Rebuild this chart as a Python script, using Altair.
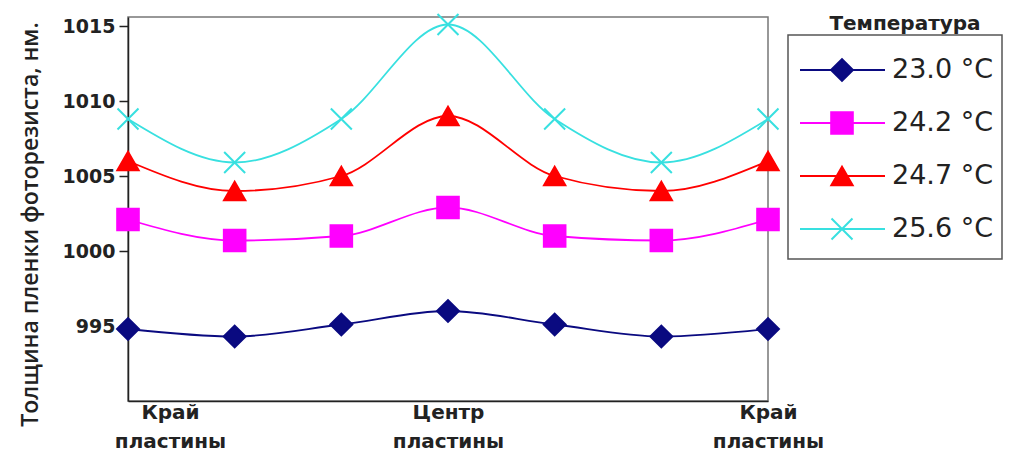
import altair as alt
import pandas as pd

positions = [1, 2, 3, 4, 5, 6, 7]
series = ["23.0 °C", "24.2 °C", "24.7 °C", "25.6 °C"]
t230 = [994.8, 994.3, 995.1, 996.0, 995.1, 994.3, 994.8]
t242 = [1002.1, 1000.7, 1001.0, 1002.9, 1001.0, 1000.7, 1002.1]
t247 = [1006.0, 1004.0, 1005.0, 1009.0, 1005.0, 1004.0, 1006.0]
t256 = [1008.8, 1005.9, 1008.8, 1015.1, 1008.8, 1005.9, 1008.8]
y_ticks = [995, 1000, 1005, 1010, 1015]
x_tick_pos = [1, 4, 7]
x_tick_labels = [["Край", "пластины"], ["Центр", "пластины"], ["Край", "пластины"]]
y_title = "Толщина пленки фоторезиста, нм."
legend_title = ["Температура"]

colors = ["#0a0a80", "#ff00ff", "#ff0000", "#38e0e0"]
shapes = ["diamond", "square", "triangle-up", "M-1,-1L1,1M1,-1L-1,1"]
sizes = [480, 440, 440, 600]

rows = []
for name, vals in zip(series, [t230, t242, t247, t256]):
    for p, v in zip(positions, vals):
        rows.append({"pos": p, "value": v, "series": name})
df = pd.DataFrame(rows)
leg_df = pd.DataFrame({"series": series})
leg_title_df = pd.DataFrame({"title": legend_title})

color_scale = alt.Scale(domain=series, range=colors)
shape_scale = alt.Scale(domain=series, range=shapes)
size_scale = alt.Scale(domain=series, range=sizes)

label_expr = " : ".join(
    f"datum.value == {p} ? {lab!r}" for p, lab in zip(x_tick_pos, x_tick_labels)
) + " : ''"

x_enc = alt.X(
    "pos:Q",
    scale=alt.Scale(domain=[1, 7], nice=False, zero=False),
    axis=alt.Axis(
        values=x_tick_pos,
        labelExpr=label_expr,
        title=None,
        grid=False,
        ticks=False,
        domainColor="#222",
        domainWidth=1.5,
        labelFlush=False,
        labelFont="DejaVu Sans",
        labelFontWeight="bold",
        labelFontSize=20,
        labelColor="#222",
        labelLineHeight=29,
        labelPadding=1,
        labelOffset={"condition": {"test": "datum.value == 1", "value": 42}, "value": 0},
    ),
)
y_enc = alt.Y(
    "value:Q",
    scale=alt.Scale(domain=[990, 1015.6], nice=False, zero=False),
    axis=alt.Axis(
        values=y_ticks,
        format="d",
        title=y_title,
        grid=False,
        tickSize=9,
        tickColor="#222",
        tickWidth=1.5,
        domainColor="#222",
        domainWidth=1.5,
        labelFont="DejaVu Sans",
        labelFontWeight="bold",
        labelFontSize=19,
        labelColor="#222",
        labelPadding=4,
        titleFont="Open Sans",
        titleFontWeight=600,
        titleFontSize=23,
        titleColor="#222",
        titleX=-98,
        titleY=207,
        titleBaseline="middle",
    ),
)

lines = alt.Chart(df).mark_line(interpolate="monotone", strokeWidth=1.8).encode(
    x=x_enc,
    y=y_enc,
    stroke=alt.Stroke("series:N", scale=color_scale, legend=None),
    detail="series:N",
)
points = alt.Chart(df).mark_point(filled=True, opacity=1, strokeWidth=2).encode(
    x="pos:Q",
    y="value:Q",
    fill=alt.Fill("series:N", scale=color_scale, legend=None),
    stroke=alt.Stroke("series:N", scale=color_scale, legend=None),
    shape=alt.Shape("series:N", scale=shape_scale, legend=None),
    size=alt.Size("series:N", scale=size_scale, legend=None),
)
main = alt.layer(lines, points).properties(
    width=640, height=384,
    view=alt.ViewBackground(stroke="#777", strokeWidth=1.5),
)

# legend panel (same height as plot; box drawn below a title strip)
leg_y = alt.Y("series:N", sort=series,
              scale=alt.Scale(type="point", range=[53, 212], padding=0), axis=None)
leg_box = alt.Chart(leg_title_df).mark_rect(
    fill="white", stroke="#555", strokeWidth=1.5
).encode(x=alt.value(0), x2=alt.value(214), y=alt.value(18), y2=alt.value(242))
leg_head = alt.Chart(leg_title_df).mark_text(
    align="center", baseline="middle", font="DejaVu Sans", fontWeight="bold",
    fontSize=20, color="#222"
).encode(x=alt.value(117), y=alt.value(7), text="title:N")
leg_line = alt.Chart(leg_df).mark_rule(strokeWidth=1.8).encode(
    x=alt.value(12), x2=alt.value(97), y=leg_y,
    stroke=alt.Stroke("series:N", scale=color_scale, legend=None),
)
leg_pts = alt.Chart(leg_df).mark_point(filled=True, opacity=1, strokeWidth=2).encode(
    x=alt.value(54), y=leg_y,
    fill=alt.Fill("series:N", scale=color_scale, legend=None),
    stroke=alt.Stroke("series:N", scale=color_scale, legend=None),
    shape=alt.Shape("series:N", scale=shape_scale, legend=None),
    size=alt.Size("series:N", scale=size_scale, legend=None),
)
leg_txt = alt.Chart(leg_df).mark_text(
    align="left", baseline="middle", font="DejaVu Sans", fontSize=27, color="#222"
).encode(x=alt.value(104), y=leg_y, text="series:N")

legend = alt.layer(leg_box, leg_head, leg_line, leg_pts, leg_txt).properties(
    width=214, height=384,
    view=alt.ViewBackground(stroke=None),
)

chart = alt.hconcat(main, legend, spacing=20, bounds="flush").properties(
    padding={"left": 10, "top": 1, "right": 0, "bottom": 0}
).configure(background="white")

chart.save("out.html", embed_options={"renderer": "svg", "actions": False})
